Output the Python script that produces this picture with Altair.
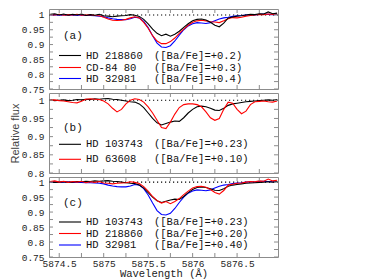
import altair as alt
import pandas as pd

# sampling grid of the spectra (Angstrom)
WAVE = [round(5874.40 + 0.05 * i, 2) for i in range(52)]

HD218860 = [1.002, 1.004, 1.000, 1.003, 0.999, 1.002, 1.000, 1.003, 0.998, 1.001, 0.999, 1.002,
            0.997, 0.996, 0.994, 0.996, 0.997, 0.998, 1.001, 0.999, 0.995, 0.985, 0.970, 0.952,
            0.938, 0.930, 0.935, 0.928, 0.935, 0.945, 0.958, 0.970, 0.980, 0.985, 0.986, 0.983,
            0.975, 0.965, 0.960, 0.972, 0.990, 0.993, 0.996, 0.997, 1.000, 1.002, 1.001, 1.004,
            1.003, 1.010, 1.004, 1.006]
CD8480 = [1.001, 1.000, 1.002, 0.999, 1.001, 1.000, 1.002, 0.999, 1.000, 1.001, 0.998, 0.997,
          0.992, 0.986, 0.982, 0.981, 0.982, 0.985, 0.990, 0.994, 0.990, 0.975, 0.955, 0.930,
          0.912, 0.903, 0.903, 0.910, 0.922, 0.938, 0.952, 0.965, 0.975, 0.980, 0.982, 0.980,
          0.977, 0.976, 0.974, 0.980, 0.987, 0.991, 0.990, 0.992, 0.996, 0.998, 1.000, 1.002,
          1.001, 1.003, 1.002, 1.003]
HD32981 = [1.000, 1.001, 0.999, 1.000, 1.001, 0.999, 1.000, 0.999, 0.998, 0.998, 0.997, 0.996,
           0.994, 0.990, 0.987, 0.985, 0.984, 0.984, 0.987, 0.992, 0.990, 0.978, 0.957, 0.930,
           0.905, 0.892, 0.890, 0.896, 0.912, 0.932, 0.950, 0.963, 0.970, 0.974, 0.973, 0.971,
           0.974, 0.980, 0.986, 0.990, 0.992, 0.995, 0.997, 0.998, 1.000, 1.001, 1.000, 1.002,
           1.003, 1.002, 1.001, 1.002]
HD103743 = [1.001, 0.999, 1.000, 1.001, 0.999, 1.000, 1.002, 1.001, 1.003, 1.002, 1.004, 1.003,
            1.004, 1.005, 1.003, 1.002, 1.000, 0.998, 0.996, 0.995, 0.990, 0.980, 0.965, 0.950,
            0.938, 0.932, 0.936, 0.940, 0.943, 0.942, 0.952, 0.965, 0.975, 0.982, 0.984, 0.982,
            0.978, 0.973, 0.972, 0.978, 0.986, 0.990, 0.992, 0.994, 0.996, 0.997, 0.998, 0.999,
            1.000, 1.001, 1.000, 1.002]
HD63608 = [1.000, 1.001, 0.999, 0.998, 0.996, 0.994, 0.993, 0.997, 1.003, 1.004, 1.003, 1.002,
           0.998, 0.990, 0.978, 0.968, 0.975, 0.990, 1.000, 1.004, 1.002, 0.995, 0.982, 0.965,
           0.945, 0.925, 0.922, 0.940, 0.962, 0.980, 0.988, 0.990, 0.990, 0.988, 0.982, 0.968,
           0.952, 0.945, 0.950, 0.975, 0.995, 0.992, 0.975, 0.963, 0.970, 0.988, 0.996, 0.997,
           0.998, 0.996, 0.995, 0.998]

X_LABELS = [5874.5, 5875.0, 5875.5, 5876.0, 5876.5]
X_TICKS = [5874.5, 5874.75, 5875.0, 5875.25, 5875.5, 5875.75, 5876.0, 5876.25, 5876.5, 5876.75]
Y_LABELS_AC = [0.75, 0.8, 0.85, 0.9, 0.95, 1.0]
Y_LABELS_B = [0.8, 0.85, 0.9, 0.95, 1.0]
Y_TICKS_AC = [0.75, 0.775, 0.8, 0.825, 0.85, 0.875, 0.9, 0.925, 0.95, 0.975, 1.0]
Y_TICKS_B = [0.8, 0.825, 0.85, 0.875, 0.9, 0.925, 0.95, 0.975, 1.0]

TAGS = ["(a)", "(b)", "(c)"]
NAMES_A = ["HD 218860", "CD-84 80", "HD 32981"]
BA_A = ["([Ba/Fe]=+0.2)", "([Ba/Fe]=+0.3)", "([Ba/Fe]=+0.4)"]
NAMES_B = ["HD 103743", "HD 63608"]
BA_B = ["([Ba/Fe]=+0.23)", "([Ba/Fe]=+0.10)"]
NAMES_C = ["HD 103743", "HD 218860", "HD 32981"]
BA_C = ["([Ba/Fe]=+0.23)", "([Ba/Fe]=+0.20)", "([Ba/Fe]=+0.40)"]

BLACK, RED, BLUE = "#000000", "#ff0000", "#0000ff"
FRAME = "#8c8c8c"
MONO = "Liberation Mono"
W = 229
XDOM = [5874.385, 5876.96]


def panel(height, ydom, ylabels, yticks, series, names, bas, colors, row_y, tag, tag_y,
          bottom_axis, ytitle):
    xs = alt.Scale(domain=XDOM, nice=False, zero=False)
    ys = alt.Scale(domain=ydom, nice=False, zero=False)
    if bottom_axis:
        xax = alt.Axis(values=X_LABELS, format=".1~f", ticks=False, domain=False, grid=False,
                       labelFont=MONO, labelFontSize=9.5, labelColor="#222", labelPadding=1,
                       title="Wavelength (Å)", titleFont=MONO, titleFontSize=10.5,
                       titleFontWeight="normal", titleColor="#222", titlePadding=1)
    else:
        xax = None
    yargs = dict(values=ylabels, format=".2~f", ticks=False, domain=False, grid=False,
                 labelFont=MONO, labelFontSize=9.5, labelColor="#222", labelPadding=5)
    if ytitle:
        yax = alt.Axis(title=ytitle, titleFont="Liberation Sans", titleFontSize=11,
                       titleFontWeight="normal", titleColor="#444", titlePadding=1, **yargs)
    else:
        yax = alt.Axis(title=None, **yargs)
    X = lambda f: alt.X(f, scale=xs, axis=xax)
    Y = lambda f: alt.Y(f, scale=ys, axis=yax)

    layers = []
    # dotted continuum
    layers.append(alt.Chart(pd.DataFrame({"f": [1.0]})).mark_rule(
        color="black", strokeDash=[1.2, 2.8], strokeWidth=1.1).encode(
        y=Y("f:Q"), x=alt.value(0), x2=alt.value(W)))
    for arr, col in series:
        df = pd.DataFrame({"w": WAVE, "f": arr})
        layers.append(alt.Chart(df).mark_line(color=col, strokeWidth=1.1).encode(
            x=X("w:Q"), y=Y("f:Q")))
    # inside ticks
    xt = pd.DataFrame({"w": X_TICKS})
    layers.append(alt.Chart(xt).mark_rule(color=FRAME).encode(
        x=X("w:Q"), y=alt.value(height), y2=alt.value(height - 4)))
    layers.append(alt.Chart(xt).mark_rule(color=FRAME).encode(
        x=X("w:Q"), y=alt.value(0), y2=alt.value(4)))
    yt = pd.DataFrame({"f": yticks})
    layers.append(alt.Chart(yt).mark_rule(color=FRAME).encode(
        y=Y("f:Q"), x=alt.value(0), x2=alt.value(4)))
    layers.append(alt.Chart(yt).mark_rule(color=FRAME).encode(
        y=Y("f:Q"), x=alt.value(W - 4), x2=alt.value(W)))
    # legend
    for i, (nm, ba, col) in enumerate(zip(names, bas, colors)):
        ld = pd.DataFrame({"name": [nm], "ba": [ba]})
        layers.append(alt.Chart(ld).mark_rule(color=col, strokeWidth=1.1).encode(
            x=alt.value(10), x2=alt.value(32), y=alt.value(row_y[i])))
        layers.append(alt.Chart(ld).mark_text(align="left", baseline="middle", font=MONO,
                                              fontSize=10.5, color="#111").encode(
            x=alt.value(37), y=alt.value(row_y[i]), text="name:N"))
        layers.append(alt.Chart(ld).mark_text(align="left", baseline="middle", font=MONO,
                                              fontSize=10.5, color="#111").encode(
            x=alt.value(105), y=alt.value(row_y[i]), text="ba:N"))
    td = pd.DataFrame({"t": [tag]})
    layers.append(alt.Chart(td).mark_text(align="left", baseline="middle", font=MONO,
                                          fontSize=11, color="#111").encode(
        x=alt.value(14), y=alt.value(tag_y), text="t:N"))
    return alt.layer(*layers).properties(width=W, height=height)


pa = panel(80, [0.75, 1.02], Y_LABELS_AC, Y_TICKS_AC,
           [(HD32981, BLUE), (CD8480, RED), (HD218860, BLACK)],
           NAMES_A, BA_A, [BLACK, RED, BLUE], [46.5, 58.5, 69.5], TAGS[0], 27, False, None)
pb = panel(80, [0.8, 1.02], Y_LABELS_B, Y_TICKS_B,
           [(HD103743, BLACK), (HD63608, RED)],
           NAMES_B, BA_B, [BLACK, RED], [51.3, 66.3], TAGS[1], 34.7, False, "Relative flux")
pc = panel(80, [0.75, 1.017], Y_LABELS_AC, Y_TICKS_AC,
           [(HD32981, BLUE), (HD103743, BLACK), (HD218860, RED)],
           NAMES_C, BA_C, [BLACK, RED, BLUE], [45, 56.5, 68], TAGS[2], 26, True, None)

chart = alt.vconcat(pa, pb, pc, spacing=4, bounds="flush").properties(
    padding={"left": 0, "top": 0, "right": 0, "bottom": 0}
).configure_view(stroke=FRAME, strokeWidth=1)

chart.save("out.html", embed_options={"renderer": "svg", "actions": False})
